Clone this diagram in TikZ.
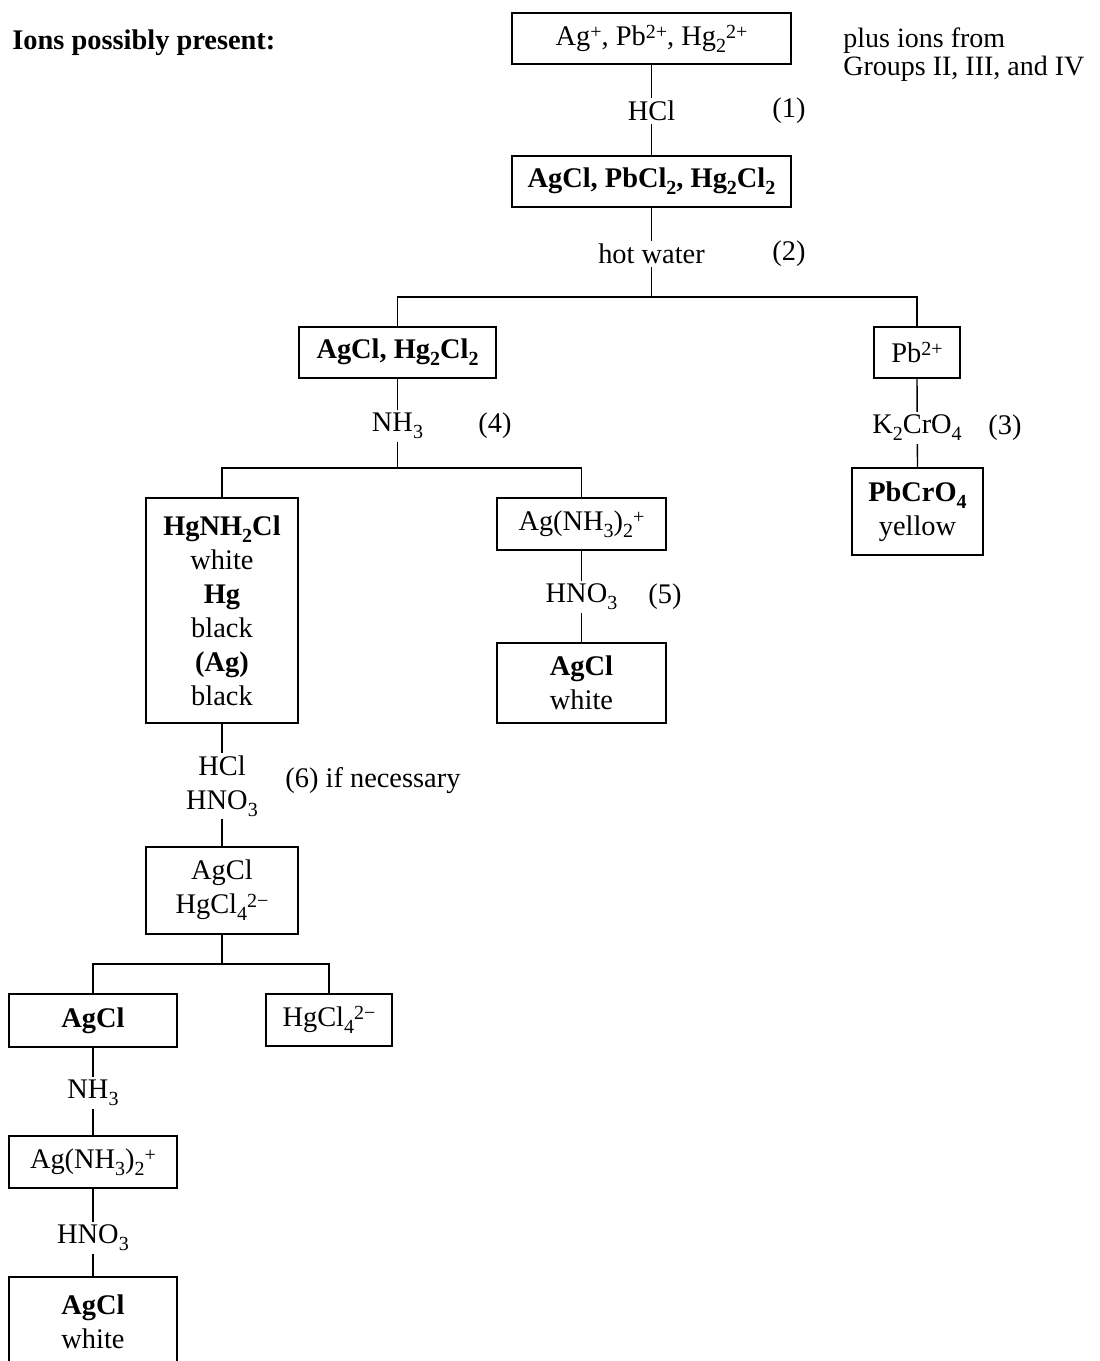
\documentclass[tikz,border=0pt]{standalone}
\usepackage{fontspec}
\setmainfont{Liberation Serif}
\newcommand\sbs[1]{\raisebox{-3.5pt}{\fontsize{10}{10}\selectfont #1}}
\newcommand\sps[1]{\raisebox{3.4pt}{\fontsize{10}{10}\selectfont #1}}
\begin{document}
\begin{tikzpicture}[x=0.5pt,y=-0.5pt,
  every node/.style={font=\fontsize{14.2}{17}\selectfont},
  wh/.style n args={2}{minimum width={#1*0.5pt},minimum height={#2*0.5pt}},
  box/.style={draw,line width=0.7pt,inner sep=0pt,align=center},
  lbl/.style={fill=white,inner sep=1.5pt,align=center},
  txt/.style={inner sep=0pt,align=left},
  conn/.style={line width=0.7pt}]
\useasboundingbox (0,0) rectangle (1099,1361);

% title and notes
\node[txt,anchor=west,font=\fontsize{14.2}{17}\selectfont\bfseries] (title) at (12,43) {Ions possibly present:};
\node[txt,anchor=north west,font=\fontsize{14}{14}\selectfont] (note) at (843,27) {plus ions from\\Groups II, III, and IV};

% boxes
\node[box,wh={279}{51}] (b1) at (651.5,38.5) {Ag\sps{+}, Pb\sps{2+}, Hg\sbs{2}\sps{2+}};
\node[box,wh={279}{51}] (b2) at (651.5,181.5) {\textbf{AgCl, PbCl\sbs{2}, Hg\sbs{2}Cl\sbs{2}}};
\node[box,wh={197}{51}] (b3) at (397.5,352.5) {\textbf{AgCl, Hg\sbs{2}Cl\sbs{2}}};
\node[box,wh={86}{51}] (b4) at (917,352.5) {Pb\sps{2+}};
\node[box,wh={131}{87}] (b5) at (917.5,511.5) {\textbf{PbCrO\sbs{4}}\\yellow};
\node[box,wh={152}{225}] (b6) at (222,610.5) {\textbf{HgNH\sbs{2}Cl}\\white\\\textbf{Hg}\\black\\\textbf{(Ag)}\\black};
\node[box,wh={169}{52}] (b7) at (581.5,524) {Ag(NH\sbs{3})\sbs{2}\sps{+}};
\node[box,wh={169}{80}] (b8) at (581.5,683) {\textbf{AgCl}\\white};
\node[box,wh={152}{87}] (b9) at (222,890.5) {AgCl\\HgCl\sbs{4}\sps{2−}};
\node[box,wh={168}{53}] (b10) at (93,1020.5) {\textbf{AgCl}};
\node[box,wh={126}{52}] (b11) at (329,1020) {HgCl\sbs{4}\sps{2−}};
\node[box,wh={168}{52}] (b12) at (93,1162) {Ag(NH\sbs{3})\sbs{2}\sps{+}};
% last box (cut off at the bottom)
\coordinate (b13top) at (93,1277);
\draw[conn] (9,1370) |- (177,1277) -- (177,1370);
\node[inner sep=0pt,align=center] (b13) at (93,1322) {\textbf{AgCl}\\white};

% junctions
\coordinate (j1) at (651.5,297);
\coordinate (j2) at (397.5,468);
\coordinate (j3) at (222,964);

% connectors
\draw[conn] (b1.south) -- (b2.north);
\draw[conn] (b2.south) -- (j1);
\draw[conn] (b3.north) |- (j1) -| (b4.north);
\draw[conn] (b4.south) -- (b5.north);
\draw[conn] (b3.south) -- (j2);
\draw[conn] (b6.north) |- (j2) -| (b7.north);
\draw[conn] (b7.south) -- (b8.north);
\draw[conn] (b6.south) -- (b9.north);
\draw[conn] (b9.south) -- (j3);
\draw[conn] (b10.north) |- (j3) -| (b11.north);
\draw[conn] (b10.south) -- (b12.north);
\draw[conn] (b12.south) -- (b13top);

% reagent labels
\node[lbl] (r1) at (651.5,111) {HCl};
\node[lbl] (r2) at (651.5,254) {hot water};
\node[lbl] (r3) at (917,428) {K\sbs{2}CrO\sbs{4}};
\node[lbl] (r4) at (397.5,426) {NH\sbs{3}};
\node[lbl] (r5) at (581.5,597) {HNO\sbs{3}};
\node[lbl] (r6) at (222,786) {HCl\\HNO\sbs{3}};
\node[lbl] (r7) at (93,1093) {NH\sbs{3}};
\node[lbl] (r8) at (93,1238) {HNO\sbs{3}};

% step numbers
\node[txt] (s1) at (789,111) {(1)};
\node[txt] (s2) at (789,254) {(2)};
\node[txt] (s3) at (1005,428) {(3)};
\node[txt] (s4) at (495,426) {(4)};
\node[txt] (s5) at (665,597) {(5)};
\node[txt,anchor=west] (s6) at (285,781) {(6) if necessary};
\end{tikzpicture}
\end{document}
